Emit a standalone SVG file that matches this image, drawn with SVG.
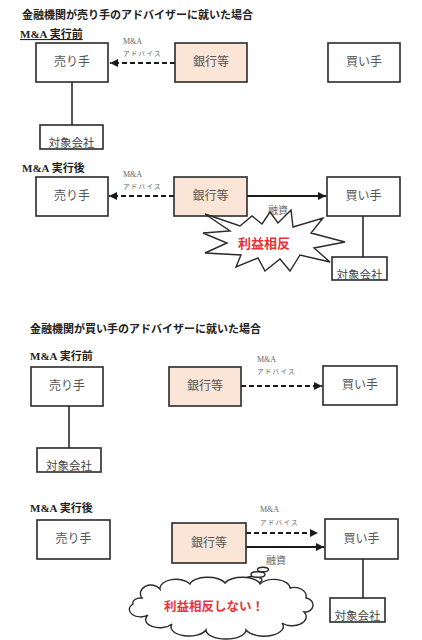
<svg xmlns="http://www.w3.org/2000/svg" width="422" height="640" viewBox="0 0 422 640">
<style>
.bg{fill:#ffffff}
.box{fill:#ffffff;stroke:#2a2a2a;stroke-width:1.6}
.bank{fill:#fbe5d6;stroke:#2a2a2a;stroke-width:1.6}
.t{font-family:"Noto Sans CJK JP","Liberation Serif",serif;font-size:12px;fill:#555;text-anchor:middle}
.tsub{font-family:"Noto Sans CJK JP","Liberation Serif",serif;font-size:11.5px;fill:#444;text-anchor:middle}
.title{font-family:"Noto Sans CJK JP",sans-serif;font-size:11px;font-weight:bold;fill:#222}
.sec{font-family:"Liberation Serif","Noto Sans CJK JP",serif;font-size:11px;font-weight:bold;fill:#222}
.lbl{font-family:"Liberation Serif","Noto Sans CJK JP",serif;font-size:8px;fill:#666}
.lbl2{font-family:"Noto Sans CJK JP",sans-serif;font-size:6.5px;fill:#666;letter-spacing:1.3px}
.yu{font-family:"Noto Sans CJK JP",serif;font-size:10px;fill:#666}
.red{font-family:"Noto Sans CJK JP",sans-serif;font-weight:bold;fill:#e8333a}
.ln{stroke:#2a2a2a;stroke-width:1.6;fill:none}
.dash{stroke:#1a1a1a;stroke-width:2;stroke-dasharray:5,3;fill:none}
.sol{stroke:#1a1a1a;stroke-width:1.8;fill:none}
.shape{fill:#ffffff;stroke:#2a2a2a;stroke-width:1.4}
</style>
<defs>
<marker id="ah" viewBox="0 0 10 10" refX="10" refY="5" markerWidth="9" markerHeight="8" markerUnits="userSpaceOnUse" orient="auto">
<path d="M0,0 L10,5 L0,10 Z" fill="#1a1a1a"/>
</marker>
</defs>
<rect class="bg" x="0" y="0" width="422" height="640"/>

<text class="title" x="22" y="19">金融機関が売り手のアドバイザーに就いた場合</text>
<text class="sec" x="20" y="38" text-decoration="underline">M&amp;A 実行前</text>

<text class="title" x="30" y="333">金融機関が買い手のアドバイザーに就いた場合</text>
<text class="sec" x="30" y="360">M&amp;A 実行前</text>
<text class="sec" x="22" y="172">M&amp;A 実行後</text>
<text class="sec" x="30" y="512">M&amp;A 実行後</text>

<g id="connectors">
<line class="dash" x1="175" y1="63" x2="110" y2="63" marker-end="url(#ah)"/>
<line class="ln" x1="72" y1="82" x2="72" y2="125"/>
<line class="dash" x1="174" y1="196" x2="109" y2="196" marker-end="url(#ah)"/>
<line class="sol" x1="247" y1="196" x2="326" y2="196" marker-end="url(#ah)"/>
<line class="ln" x1="363" y1="216" x2="363" y2="257"/>
<line class="dash" x1="241" y1="386" x2="322" y2="386" marker-end="url(#ah)"/>
<line class="ln" x1="69" y1="406" x2="69" y2="448"/>
<line class="dash" x1="246" y1="533" x2="318" y2="533" marker-end="url(#ah)"/>
<line class="sol" x1="246" y1="547" x2="324" y2="547" marker-end="url(#ah)"/>
<line class="ln" x1="363" y1="559" x2="363" y2="598"/>
</g>

<g id="labels">
<text class="lbl" x="123" y="44">M&amp;A</text>
<text class="lbl2" x="123" y="56">アドバイス</text>
<text class="lbl" x="123" y="177">M&amp;A</text>
<text class="lbl2" x="123" y="189">アドバイス</text>
<text class="yu" x="268" y="214">融資</text>
<text class="lbl" x="257" y="362">M&amp;A</text>
<text class="lbl2" x="257" y="374">アドバイス</text>
<text class="lbl" x="260" y="512">M&amp;A</text>
<text class="lbl2" x="260" y="525">アドバイス</text>
<text class="yu" x="266" y="564">融資</text>
</g>

<g id="s1-seller"><rect class="box" x="36" y="43" width="72" height="39"/><text class="t" x="72" y="66">売り手</text></g>
<g id="s1-bank"><rect class="bank" x="175" y="43" width="72" height="39"/><text class="t" x="211" y="66">銀行等</text></g>
<g id="s1-buyer"><rect class="box" x="328" y="43" width="72" height="39"/><text class="t" x="364" y="66">買い手</text></g>
<g id="s1-target"><rect class="box" x="40" y="125" width="63" height="24"/><text class="tsub" x="71.5" y="147">対象会社</text></g>

<g id="s2-seller"><rect class="box" x="36" y="177" width="72" height="39"/><text class="t" x="72" y="200">売り手</text></g>
<g id="s2-bank"><rect class="bank" x="174" y="177" width="73" height="39"/><text class="t" x="210.5" y="200">銀行等</text></g>
<g id="s2-buyer"><rect class="box" x="327" y="177" width="73" height="39"/><text class="t" x="363.5" y="200">買い手</text></g>
<g id="s2-target"><rect class="box" x="332" y="257" width="55" height="23"/><text class="tsub" x="359.5" y="279">対象会社</text></g>
<g id="s2-conflict">
<polygon class="shape" points="205,214 240,226 252,216 262,224 270,212 278,223 291,210 293,227 323,218 311,233 345,242 314,248 330,262 300,255 290,271 280,259 265,271 258,258 236,267 241,255 205,253 227,243 203,233 230,231"/>
<text class="red" x="264" y="248" font-size="13" text-anchor="middle">利益相反</text>
</g>

<g id="s3-seller"><rect class="box" x="31" y="367" width="72" height="39"/><text class="t" x="67" y="390">売り手</text></g>
<g id="s3-bank"><rect class="bank" x="169" y="367" width="72" height="39"/><text class="t" x="205" y="390">銀行等</text></g>
<g id="s3-buyer"><rect class="box" x="323" y="366" width="74" height="39"/><text class="t" x="360" y="389">買い手</text></g>
<g id="s3-target"><rect class="box" x="37" y="448" width="64" height="24"/><text class="tsub" x="69" y="470">対象会社</text></g>

<g id="s4-seller"><rect class="box" x="37" y="520" width="73" height="39"/><text class="t" x="73.5" y="543">売り手</text></g>
<g id="s4-bank"><rect class="bank" x="172" y="523" width="74" height="40"/><text class="t" x="209" y="547">銀行等</text></g>
<g id="s4-buyer"><rect class="box" x="325" y="519" width="73" height="40"/><text class="t" x="361.5" y="543">買い手</text></g>
<g id="s4-target"><rect class="box" x="330" y="598" width="55" height="24"/><text class="tsub" x="357.5" y="620">対象会社</text></g>
<g id="s4-cloud">
<ellipse class="shape" cx="253" cy="580" rx="9" ry="3.5"/>
<ellipse class="shape" cx="258" cy="574.5" rx="7" ry="2.8"/>
<ellipse class="shape" cx="263" cy="569.5" rx="5.5" ry="2.3"/>
<path class="shape" d="M142,598 A10,8 0 0 1 160,589 A16,9 0 0 1 190,584 A18,8 0 0 1 225,583 A18,8 0 0 1 260,584 A16,9 0 0 1 290,588 A12,9 0 0 1 306,598 A8,7 0 0 1 304,612 A14,9 0 0 1 282,623 A18,9 0 0 1 246,630 A20,9 0 0 1 206,630 A18,9 0 0 1 172,624 A14,8 0 0 1 148,615 A9,6 0 0 1 133,604 A8,5 0 0 1 142,598 Z"/>
<text class="red" x="214" y="611" font-size="12.5" text-anchor="middle">利益相反しない！</text>
</g>
</svg>
